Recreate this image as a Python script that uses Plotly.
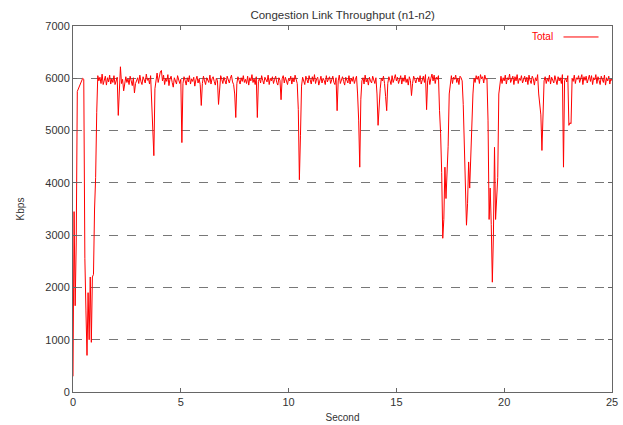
import numpy as np
import plotly.graph_objects as go

# Throughput samples (Kbps), one every 0.05 s, from t = 0 s to t = 25 s
sample_interval = 0.05
kbps_sec = [
    # 0 s
    [300, 3450, 1650, 2850, 5750, 5800, 5850, 5900, 5950, 6000, 5980, 2550, 1550, 700, 1900, 1000, 2200, 950, 2200, 2250],
    # 1 s
    [3500, 4100, 5350, 6050, 5950, 6020, 5900, 6080, 5880, 5960, 6040, 5870, 6010, 5930, 6060, 5890, 5990, 5920, 6050, 5880],
    # 2 s
    [5950, 6020, 5290, 5880, 6220, 5900, 5980, 5760, 5870, 6030, 5920, 5990, 5880, 6040, 5950, 5860, 6010, 5720, 5900, 5980],
    # 3 s
    [6010, 5900, 6060, 5940, 5880, 6030, 5970, 5910, 6080, 5960, 6000, 5890, 6050, 5600, 5100, 4520, 5800, 5950, 6100, 5920],
    # 4 s
    [6030, 6120, 6150, 5950, 6060, 5880, 6000, 5940, 6070, 5860, 5990, 6040, 5920, 5830, 6010, 5950, 5890, 6050, 5970, 5900],
    # 5 s
    [5980, 4770, 5900, 6030, 5960, 5870, 6010, 5930, 6050, 5890, 5990, 5940, 6020, 5850, 5970, 6040, 5910, 5990, 5880, 5480],
    # 6 s
    [5900, 6040, 5950, 5880, 6010, 5970, 5920, 6060, 5890, 5990, 6030, 5940, 5870, 6000, 5960, 5500, 5910, 6050, 5980, 5900],
    # 7 s
    [6020, 5950, 5890, 6040, 5970, 5910, 6000, 6060, 5930, 5880, 5700, 5250, 5900, 6030, 5960, 5890, 6010, 5940, 6050, 5920],
    # 8 s
    [5980, 5900, 6040, 5870, 6010, 5950, 6070, 5920, 5990, 5880, 6030, 5250, 5940, 6000, 5910, 6050, 5960, 5890, 6020, 5970],
    # 9 s
    [5930, 6060, 5880, 6000, 5950, 6030, 5900, 5980, 6040, 5920, 5870, 6010, 5960, 5590, 5990, 6050, 5910, 6020, 5940, 5880],
    # 10 s
    [6000, 5950, 6040, 5890, 6010, 5930, 6060, 5970, 5900, 5400, 4060, 4900, 5850, 6020, 5950, 5880, 6040, 5990, 5910, 6050],
    # 11 s
    [5960, 5890, 6030, 5940, 6070, 5900, 5990, 6020, 5870, 5950, 6040, 5910, 6000, 5960, 5880, 6050, 5930, 5990, 6030, 5900],
    # 12 s
    [5970, 6040, 5920, 5880, 6010, 5380, 5950, 6060, 5900, 5990, 6030, 5940, 5870, 6020, 5960, 5910, 6050, 5890, 6000, 5940],
    # 13 s
    [6030, 5900, 5980, 6040, 5700, 5200, 4300, 5600, 5950, 6010, 5890, 6060, 5930, 5990, 5870, 6020, 5950, 5910, 6040, 5980],
    # 14 s
    [5900, 6010, 5700, 5100, 5550, 5800, 6000, 5950, 6040, 5900, 5650, 5380, 5900, 6030, 5960, 5880, 6050, 5920, 5990, 6070],
    # 15 s
    [5950, 6020, 5900, 5980, 6050, 5890, 6010, 5940, 6060, 5920, 5990, 5870, 6030, 5960, 5670, 5900, 6040, 5980, 5910, 6000],
    # 16 s
    [6010, 5930, 6050, 5890, 5990, 6040, 5920, 6070, 5400, 5960, 6030, 5880, 6000, 6080, 5950, 6060, 5900, 6020, 5980, 6050],
    # 17 s
    [5380, 4950, 4200, 2940, 3300, 4300, 3700, 4100, 4700, 5700, 5950, 6050, 5900, 6020, 5980, 6060, 5920, 6000, 5880, 6040],
    # 18 s
    [6010, 5950, 5500, 4700, 3900, 3190, 3600, 4400, 3900, 4600, 4850, 5700, 6000, 5920, 6050, 5980, 6040, 5900, 6070, 5990],
    # 19 s
    [6030, 5910, 6060, 5980, 6000, 5200, 3300, 3900, 3200, 2100, 3000, 4680, 3300, 3900, 4100, 5700, 5950, 6040, 5900, 6010],
    # 20 s
    [5950, 6060, 5890, 6010, 5970, 6080, 5920, 5990, 6040, 5880, 6030, 5950, 6070, 5900, 6000, 5960, 6050, 5910, 5990, 6040],
    # 21 s
    [5930, 6020, 5880, 6060, 5960, 5900, 6040, 5990, 5870, 6010, 5950, 6070, 5700, 5400, 5300, 4620, 5600, 5950, 6030, 5900],
    # 22 s
    [6000, 5940, 6060, 5890, 6020, 5970, 5910, 6050, 5980, 5880, 6030, 5950, 6010, 5900, 6070, 4300, 5960, 6000, 5930, 6050],
    # 23 s
    [5100, 5150, 5130, 6000, 5940, 6060, 5900, 6010, 5980, 6050, 5920, 5990, 6070, 5880, 6030, 5960, 6040, 5910, 6000, 6060],
    # 24 s
    [5940, 6050, 5880, 6010, 5970, 6070, 5900, 6030, 5960, 5880, 6040, 5990, 5920, 6060, 5870, 6010, 5950, 6040, 5890, 6000],
    # 25 s
    [5950],
]

y_ticks = [0, 1000, 2000, 3000, 4000, 5000, 6000, 7000]
x_ticks = [0, 5, 10, 15, 20, 25]

kbps = [v for sec in kbps_sec for v in sec]
seconds = np.arange(len(kbps)) * sample_interval

FONT = "Liberation Sans, Arial, sans-serif"
TEXT = "#333333"

fig = go.Figure()
fig.add_trace(go.Scatter(
    x=seconds, y=kbps, mode="lines", name="Total",
    line=dict(color="#ff0000", width=1),
    showlegend=False, hoverinfo="skip",
))

axis_common = dict(
    showline=True, linecolor="#666666", linewidth=1, mirror="ticks",
    ticks="inside", ticklen=4, tickcolor="#666666",
    tickfont=dict(family=FONT, size=11, color=TEXT),
    zeroline=False, automargin=False,
)

fig.update_xaxes(
    range=[0, 25], tickvals=x_ticks, showgrid=False,
    title=dict(text="Second", font=dict(family=FONT, size=10, color=TEXT), standoff=6),
    **axis_common,
)
fig.update_yaxes(
    range=[0, 7000], tickvals=y_ticks, showgrid=True,
    gridcolor="#777777", gridwidth=1, griddash="dash",
    title=dict(text="Kbps", font=dict(family=FONT, size=10, color=TEXT), standoff=18),
    **axis_common,
)

# legend key: text then line sample, top right
fig.add_annotation(
    x=0.895, y=0.97, xref="paper", yref="paper", text="Total",
    showarrow=False, xanchor="right", yanchor="middle",
    font=dict(family=FONT, size=10, color="#ff0000"),
)
fig.add_shape(
    type="line", xref="paper", yref="paper",
    x0=0.91, x1=0.975, y0=0.97, y1=0.97,
    line=dict(color="#ff0000", width=1),
)

fig.update_layout(
    width=623, height=425,
    margin=dict(l=73, r=11, t=26, b=33),
    paper_bgcolor="white", plot_bgcolor="white",
    title=dict(
        text="Congestion Link Throughput (n1-n2)",
        x=0.55, xanchor="center", y=0.965, yanchor="middle",
        font=dict(family=FONT, size=11.5, color=TEXT),
    ),
)

fig.write_html(
    "out.html",
    config={"displayModeBar": False},
    post_script="document.body.style.margin='0';",
)
